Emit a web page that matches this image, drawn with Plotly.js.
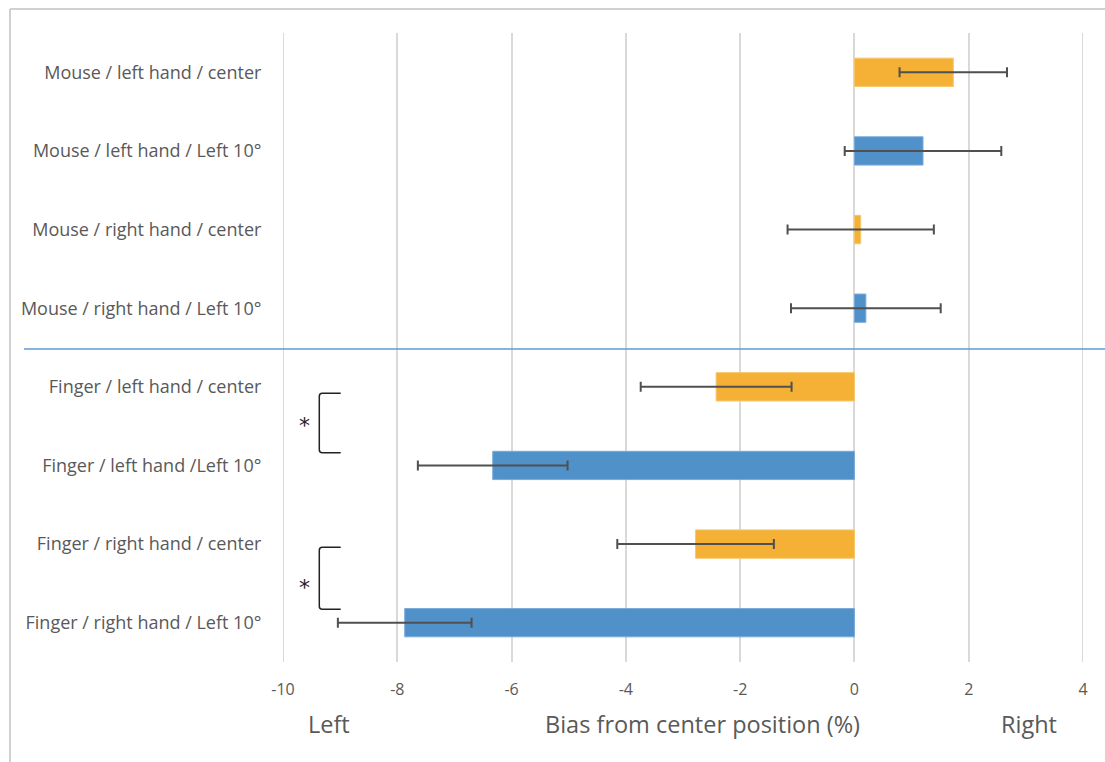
<!DOCTYPE html>
<html>
<head>
<meta charset="utf-8">
<script src="https://cdn.plot.ly/plotly-3.0.1.min.js"></script>
<style>
html,body{margin:0;padding:0;background:#fff;}
#chart{width:1105px;height:762px;}
</style>
</head>
<body>
<div id="chart"></div>
<script>
// Category order (top to bottom)
const categories = [
  "Mouse / left hand / center",
  "Mouse / left hand / Left 10°",
  "Mouse / right hand / center",
  "Mouse / right hand / Left 10°",
  "Finger / left hand / center",
  "Finger / left hand /Left 10°",
  "Finger / right hand / center",
  "Finger / right hand / Left 10°"
];

// Center-position conditions (orange)
const centerCats = [
  "Mouse / left hand / center",
  "Mouse / right hand / center",
  "Finger / left hand / center",
  "Finger / right hand / center"
];
const centerVals = [1.73, 0.11, -2.42, -2.78];
const centerErr  = [0.94, 1.28, 1.32, 1.37];

// Left 10° conditions (blue)
const left10Cats = [
  "Mouse / left hand / Left 10°",
  "Mouse / right hand / Left 10°",
  "Finger / left hand /Left 10°",
  "Finger / right hand / Left 10°"
];
const left10Vals = [1.20, 0.20, -6.33, -7.87];
const left10Err  = [1.37, 1.31, 1.31, 1.17];

const xTicks = [-10, -8, -6, -4, -2, 0, 2, 4];
const xMin = -10, xMax = 4;

const FONT = "'Open Sans', 'Noto Sans', sans-serif";
const TXT = "#595959";
const GRID = "#D9D9D9";
const errStyle = {type: "data", visible: true, color: "#505050", thickness: 2, width: 5};

const traces = [
  {
    type: "bar", orientation: "h", name: "center",
    y: centerCats, x: centerVals,
    error_x: Object.assign({array: centerErr}, errStyle),
    marker: {color: "#F4B135", line: {color: "#F7C56A", width: 1}},
    width: 0.36, hoverinfo: "x+y"
  },
  {
    type: "bar", orientation: "h", name: "Left 10°",
    y: left10Cats, x: left10Vals,
    error_x: Object.assign({array: left10Err}, errStyle),
    marker: {color: "#5191C9", line: {color: "#7AAAD8", width: 1}},
    width: 0.36, hoverinfo: "x+y"
  }
];

// helper: pixel -> paper coords (plot area x 283..1083, y 33..662)
function px(x){ return (x - 283) / 800; }
function py(y){ return (662 - y) / 629; }
function bracket(top, bot){
  const xl = 319.3, xr = 340.7, r = 3;
  return "M " + px(xr) + "," + py(top) +
         " L " + px(xl + r) + "," + py(top) +
         " Q " + px(xl) + "," + py(top) + " " + px(xl) + "," + py(top + r) +
         " L " + px(xl) + "," + py(bot - r) +
         " Q " + px(xl) + "," + py(bot) + " " + px(xl + r) + "," + py(bot) +
         " L " + px(xr) + "," + py(bot);
}

const layout = {
  width: 1105, height: 762,
  margin: {l: 283, r: 22, t: 33, b: 100},
  paper_bgcolor: "#ffffff", plot_bgcolor: "#ffffff",
  showlegend: false,
  barmode: "overlay",
  font: {family: FONT, color: TXT},
  xaxis: {
    range: [xMin, xMax], tickvals: xTicks, ticktext: xTicks.map(String),
    showgrid: true, gridcolor: GRID, gridwidth: 2,
    zeroline: true, zerolinecolor: GRID, zerolinewidth: 2,
    showline: false, ticks: "", fixedrange: true,
    tickfont: {family: FONT, size: 16, color: TXT},
    ticklabelstandoff: 16
  },
  yaxis: {
    type: "category", categoryorder: "array", categoryarray: categories,
    range: [7.5, -0.5],
    showgrid: false, zeroline: false, showline: false,
    ticks: "outside", ticklen: 17, tickcolor: "rgba(0,0,0,0)",
    tickfont: {family: FONT, size: 18, color: TXT}, fixedrange: true
  },
  shapes: [
    // edge gridlines (at the range ends, which plotly does not draw)
    {type: "line", xref: "x", yref: "paper", x0: xMin, x1: xMin, y0: 0, y1: 1,
     layer: "below", line: {color: GRID, width: 2}},
    {type: "line", xref: "x", yref: "paper", x0: xMax, x1: xMax, y0: 0, y1: 1,
     layer: "below", line: {color: GRID, width: 2}},
    // figure border (top and left)
    {type: "line", xref: "paper", yref: "paper", x0: px(10), x1: px(1110), y0: py(9), y1: py(9),
     line: {color: "#D0D0D0", width: 2}},
    {type: "line", xref: "paper", yref: "paper", x0: px(10), x1: px(10), y0: py(9), y1: py(770),
     line: {color: "#D0D0D0", width: 2}},
    // separator between Mouse and Finger groups
    {type: "line", xref: "paper", yref: "y", x0: px(24), x1: px(1106), y0: 3.52, y1: 3.52,
     line: {color: "#5B9BD5", width: 1.5}},
    // significance brackets
    {type: "path", xref: "paper", yref: "paper", path: bracket(393.3, 452.7),
     line: {color: "#222222", width: 1.5}},
    {type: "path", xref: "paper", yref: "paper", path: bracket(547.3, 609.3),
     line: {color: "#222222", width: 1.5}}
  ],
  annotations: [
    {xref: "paper", yref: "paper", x: px(304), y: py(425), xanchor: "center", yanchor: "middle",
     text: "*", showarrow: false,
     font: {family: "DejaVu Sans", size: 22, color: "#222222"}},
    {xref: "paper", yref: "paper", x: px(304), y: py(587), xanchor: "center", yanchor: "middle",
     text: "*", showarrow: false,
     font: {family: "DejaVu Sans", size: 22, color: "#222222"}},
    {xref: "paper", yref: "paper", x: px(329), y: py(724), xanchor: "center", yanchor: "middle",
     text: "Left", showarrow: false,
     font: {family: FONT, size: 23.5, color: TXT}},
    {xref: "paper", yref: "paper", x: px(702), y: py(724), xanchor: "center", yanchor: "middle",
     text: "Bias from center position (%)", showarrow: false,
     font: {family: FONT, size: 23.5, color: TXT}},
    {xref: "paper", yref: "paper", x: px(1029), y: py(724), xanchor: "center", yanchor: "middle",
     text: "Right", showarrow: false,
     font: {family: FONT, size: 23.5, color: TXT}}
  ]
};

Plotly.newPlot("chart", traces, layout, {displayModeBar: false, staticPlot: true});
</script>
</body>
</html>
